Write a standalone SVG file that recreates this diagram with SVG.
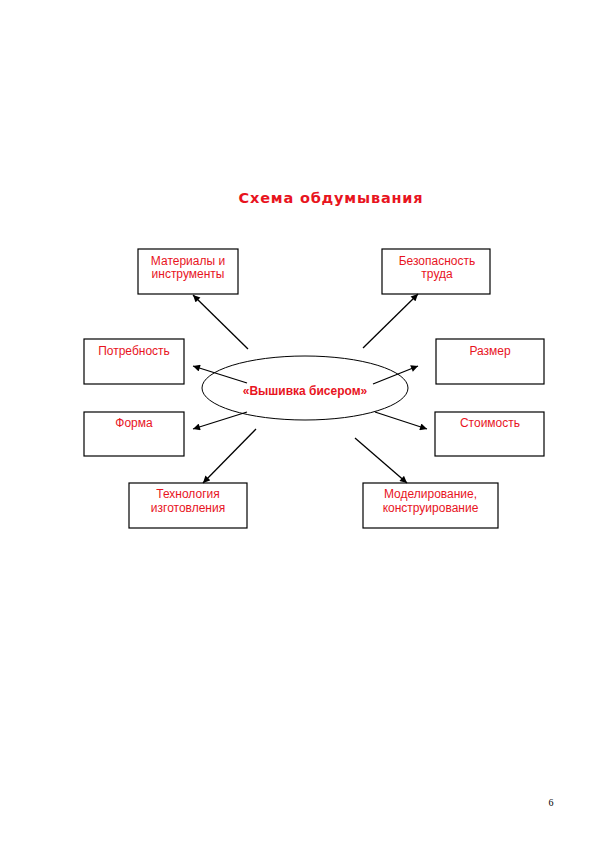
<svg xmlns="http://www.w3.org/2000/svg" width="595" height="842" viewBox="0 0 595 842">
<defs>
<marker id="ah" viewBox="0 0 10 10" refX="10" refY="5" markerWidth="8" markerHeight="7" markerUnits="userSpaceOnUse" orient="auto">
<path d="M0,0 L10,5 L0,10 Z" fill="#000"/>
</marker>
<style>
.box{fill:#fff;stroke:#000;stroke-width:1.2}
.t{font-family:"Liberation Sans",Arial,sans-serif;font-size:12px;fill:#e8141e;text-anchor:middle}
.c{stroke:#000;stroke-width:1.3;fill:none;marker-end:url(#ah)}
</style>
</defs>
<rect width="595" height="842" fill="#fff"/>
<text x="331" y="203" font-family="DejaVu Sans, sans-serif" font-weight="bold" font-size="14.5" fill="#e8141e" text-anchor="middle" letter-spacing="0.8">Схема обдумывания</text>
<g id="center">
<ellipse cx="305" cy="388" rx="103" ry="32" fill="#fff" stroke="#000" stroke-width="1"/>
<text x="305" y="395" class="t" font-weight="bold" font-size="11.5">«Вышивка бисером»</text>
</g>
<g id="n1"><rect class="box" x="138" y="249" width="100" height="45"/><text class="t" x="188" y="265">Материалы и</text><text class="t" x="188" y="278">инструменты</text></g>
<g id="n2"><rect class="box" x="382" y="249" width="108" height="45"/><text class="t" x="437" y="265">Безопасность</text><text class="t" x="437" y="278">труда</text></g>
<g id="n3"><rect class="box" x="84" y="339" width="100" height="45"/><text class="t" x="134" y="355">Потребность</text></g>
<g id="n4"><rect class="box" x="436" y="339" width="108" height="45"/><text class="t" x="490" y="355">Размер</text></g>
<g id="n5"><rect class="box" x="84" y="412" width="100" height="44"/><text class="t" x="134" y="427">Форма</text></g>
<g id="n6"><rect class="box" x="435" y="412" width="109" height="44"/><text class="t" x="490" y="427">Стоимость</text></g>
<g id="n7"><rect class="box" x="129" y="483" width="118" height="45"/><text class="t" x="188" y="498">Технология</text><text class="t" x="188" y="512">изготовления</text></g>
<g id="n8"><rect class="box" x="363" y="483" width="135" height="45"/><text class="t" x="430.5" y="498">Моделирование,</text><text class="t" x="430.5" y="512">конструирование</text></g>
<g id="connectors">
<line class="c" x1="248" y1="349" x2="193" y2="295"/>
<line class="c" x1="363" y1="348" x2="418" y2="294"/>
<line class="c" x1="247" y1="383" x2="193" y2="366"/>
<line class="c" x1="373" y1="384" x2="418" y2="366"/>
<line class="c" x1="247" y1="412" x2="193" y2="429"/>
<line class="c" x1="375" y1="412" x2="427" y2="429"/>
<line class="c" x1="256" y1="429" x2="203" y2="483"/>
<line class="c" x1="355" y1="438" x2="407" y2="483"/>
</g>
<text x="551" y="806" font-family="Liberation Serif, serif" font-size="10" fill="#000" text-anchor="middle">6</text>
</svg>
